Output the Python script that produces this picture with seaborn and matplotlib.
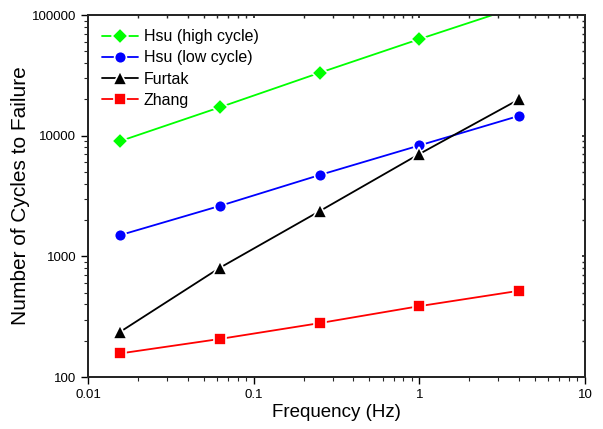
import numpy as np
import pandas as pd
import matplotlib
matplotlib.use("Agg")
import matplotlib.pyplot as plt
import seaborn as sns
from matplotlib.ticker import LogLocator, NullFormatter, FixedFormatter, FixedLocator

# frequencies (Hz)
freq = [1/64, 1/16, 1/4, 1, 4]
hsu_high = [9020, 17200, 33200, 63100, 118000]
hsu_low = [1500, 2620, 4720, 8300, 14600]
furtak = [237, 805, 2370, 7050, 20000]
zhang = [157, 207, 280, 387, 519]

series_names = ['Hsu (high cycle)', 'Hsu (low cycle)', 'Furtak', 'Zhang']
series_vals = [hsu_high, hsu_low, furtak, zhang]
colors = ['#00ff00', '#0000ff', '#000000', '#ff0000']
markers = ['D', 'o', '^', 's']
msizes = [8, 8.5, 10, 8]

sns.set_theme(style="ticks")
plt.rcParams['font.family'] = ['Liberation Sans', 'DejaVu Sans']
plt.rcParams['text.color'] = 'black'
plt.rcParams['axes.labelcolor'] = 'black'

fig = plt.figure(figsize=(6.03, 4.29), dpi=100)
ax = fig.add_axes([0.146, 0.121, 0.824, 0.844])

for name, vals, c, m, ms in zip(series_names, series_vals, colors, markers, msizes):
    df = pd.DataFrame({'Frequency': freq, 'Cycles': vals})
    sns.lineplot(data=df, x='Frequency', y='Cycles', ax=ax, color=c, marker=m,
                 markersize=ms, markeredgecolor='white', markeredgewidth=1.2,
                 linewidth=1.3, label=name)

ax.set_xscale('log')
ax.set_yscale('log')
ax.set_xlim(0.01, 10)
ax.set_ylim(100, 100000)

ax.xaxis.set_major_locator(FixedLocator([0.01, 0.1, 1, 10]))
ax.xaxis.set_major_formatter(FixedFormatter(['0.01', '0.1', '1', '10']))
ax.yaxis.set_major_locator(FixedLocator([100, 1000, 10000, 100000]))
ax.yaxis.set_major_formatter(FixedFormatter(['100', '1000', '10000', '100000']))
ax.xaxis.set_minor_locator(LogLocator(base=10, subs=np.arange(2, 10)))
ax.yaxis.set_minor_locator(LogLocator(base=10, subs=np.arange(2, 10)))
ax.xaxis.set_minor_formatter(NullFormatter())
ax.yaxis.set_minor_formatter(NullFormatter())

ax.tick_params(which='major', direction='out', length=5, width=1, labelsize=9.5, colors='black')
ax.tick_params(which='minor', direction='out', length=3, width=0.8)

for s in ax.spines.values():
    s.set_linewidth(1.2)
    s.set_color('black')

# inward ticks on top and right
ax2 = ax.twinx()
ax2.set_yscale('log')
ax2.set_ylim(ax.get_ylim())
ax2.yaxis.set_minor_locator(LogLocator(base=10, subs=np.arange(2, 10)))
ax2.tick_params(which='both', direction='in', length=2, labelright=False)
ax3 = ax.twiny()
ax3.set_xscale('log')
ax3.set_xlim(ax.get_xlim())
ax3.xaxis.set_minor_locator(LogLocator(base=10, subs=np.arange(2, 10)))
ax3.tick_params(which='both', direction='in', length=2, labeltop=False)

ax.set_xlabel('Frequency (Hz)', fontsize=13.5, labelpad=2)
ax.set_ylabel('Number of Cycles to Failure', fontsize=15, labelpad=1)

ax.legend(loc='upper left', frameon=False, fontsize=11.5, handlelength=2.2,
          handletextpad=0.4, labelspacing=0.38, borderaxespad=0.5)

fig.savefig('out.png', dpi=100)
